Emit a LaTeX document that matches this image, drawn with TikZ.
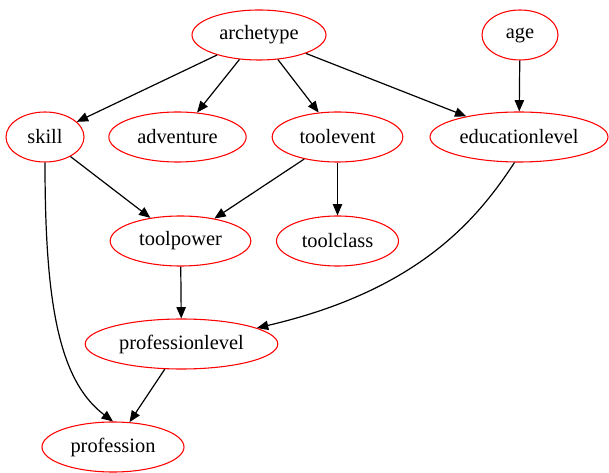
\documentclass[tikz,border=0pt]{standalone}
\usepackage{fontspec}
\setmainfont{Liberation Serif}
\usetikzlibrary{arrows.meta,shapes.geometric}
\begin{document}
\begin{tikzpicture}[x=0.75pt,y=-0.75pt,
  nd/.style={draw=red, line width=0.8pt, ellipse, inner sep=0pt, minimum height=37.5pt, font=\fontsize{15.3}{18}\selectfont},
  ed/.style={draw=black, line width=0.9pt, -{Triangle[length=8.5pt,width=7pt]}}]
\useasboundingbox (0,0) rectangle (609,473);
\node[nd, minimum width=100.5pt] (archetype) at (259,35) {archetype};
\node[nd, minimum width=57pt] (age) at (520,35) {age};
\node[nd, minimum width=58.5pt] (skill) at (45,137) {skill};
\node[nd, minimum width=103pt] (adventure) at (177.5,137) {adventure};
\node[nd, minimum width=98pt] (toolevent) at (337.5,137) {toolevent};
\node[nd, minimum width=133.5pt] (educationlevel) at (519,137) {educationlevel};
\node[nd, minimum width=105.5pt] (toolpower) at (180.5,241) {toolpower};
\node[nd, minimum width=91.5pt] (toolclass) at (337.5,241) {toolclass};
\node[nd, minimum width=144.5pt] (professionlevel) at (181.5,344) {professionlevel};
\node[nd, minimum width=106.5pt] (profession) at (113,447) {profession};
\draw[ed] (archetype) -- (skill);
\draw[ed] (archetype) -- (adventure);
\draw[ed] (archetype) -- (toolevent);
\draw[ed] (archetype) -- (educationlevel);
\draw[ed] (age) -- (educationlevel);
\draw[ed] (skill) -- (toolpower);
\draw[ed] (toolevent) -- (toolpower);
\draw[ed] (toolevent) -- (toolclass);
\draw[ed] (toolpower) -- (professionlevel);
\draw[ed] (professionlevel) -- (profession);
\draw[ed] (skill.south) .. controls (45,300) and (58,380) .. (profession.north);
\draw[ed] (educationlevel.-100) .. controls (478,218) and (420,290) .. (professionlevel.12);
\end{tikzpicture}
\end{document}
